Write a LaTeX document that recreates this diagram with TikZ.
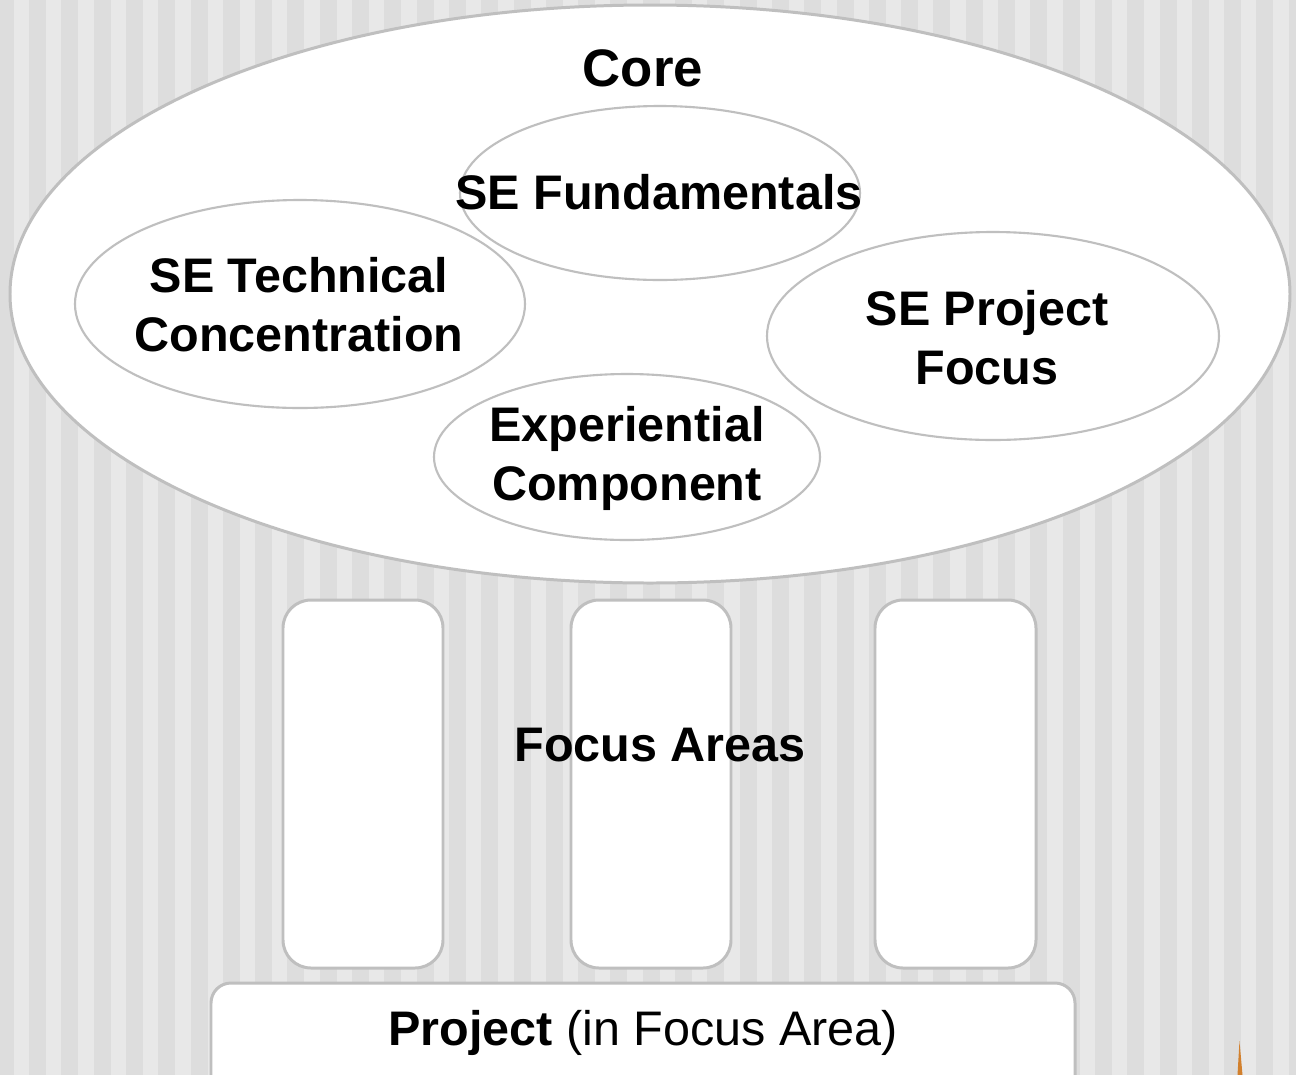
\documentclass[tikz,border=0pt]{standalone}
\usepackage{fontspec}
\setmainfont{Liberation Sans}
\begin{document}
\begin{tikzpicture}[x=0.01cm,y=-0.01cm,
  pillar/.style={draw=black!25,line width=0.85pt,fill=white,rounded corners=0.28cm},
  inner/.style={draw=black!25,line width=0.6pt,fill=white},
  lbl/.style={font=\fontsize{13.8pt}{16.8pt}\selectfont\bfseries,align=center,inner sep=0pt}]
\clip (0,0) rectangle (1296,1075);
\fill[black!9] (0,0) rectangle (1296,1075);
\foreach \k in {0,...,40} {\fill[black!13.5] ({-3.3+32.3*\k},0) rectangle ({13.7+32.3*\k},1075);}
% big core ellipse
\draw[draw=black!25,line width=0.85pt,fill=white] (650,294) ellipse [x radius=640, y radius=289];
\draw[inner] (660,193) ellipse [x radius=200, y radius=87];
\draw[inner] (300,304) ellipse [x radius=225, y radius=104];
\draw[inner] (993,336) ellipse [x radius=226, y radius=104];
\draw[inner] (627,457) ellipse [x radius=193, y radius=83];
\node[lbl,font=\fontsize{15pt}{17pt}\selectfont\bfseries] (core) at (643,68) {Core};
\node[lbl] (fund) at (659,192) {SE Fundamentals};
\node[lbl] (tech) at (299,305) {SE Technical\\Concentration};
\node[lbl] (proj) at (987,338) {SE Project\\Focus};
\node[lbl] (exp) at (627,458) {Experiential\\Component};
% pillars
\draw[pillar] (283,600) rectangle (443,968);
\draw[pillar] (571,600) rectangle (731,968);
\draw[pillar] (875,600) rectangle (1036,968);
\node[lbl] (focus) at (660,745) {Focus Areas};
% project base
\draw[draw=black!25,line width=0.85pt,fill=white,rounded corners=0.2cm] (211,1110) -- (211,983) -- (1075,983) -- (1075,1110);
\node[lbl] (project) at (643,1033) {Project \mdseries(in Focus Area)};
% small mark
\fill[brown!70!orange] (1239.5,1041) -- (1237.5,1075) -- (1242.5,1075) -- cycle;
\end{tikzpicture}
\end{document}
